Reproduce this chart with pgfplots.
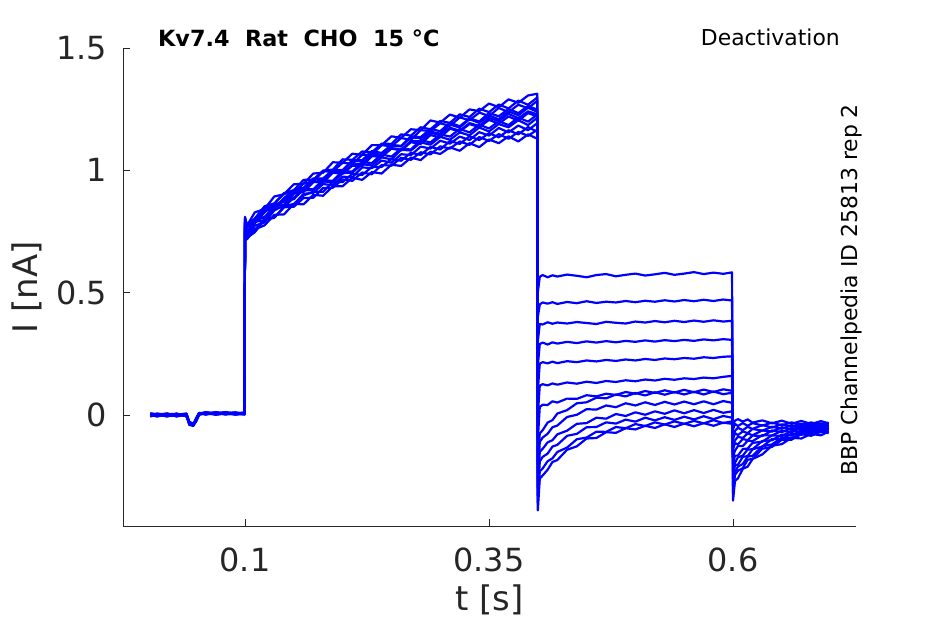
\documentclass[border=0pt]{standalone}
\usepackage{fontspec}
\setmainfont{DejaVu Sans}
\usepackage{pgfplots}
\usepackage{pgfplotstable}
\pgfplotsset{compat=1.18}
\definecolor{axgray}{RGB}{38,38,38}
\definecolor{trace}{RGB}{0,0,255}
\pgfplotstableread{
t y1 y2 y3 y4 y5 y6 y7 y8 y9 y10 y11 y12 y13
0.003 .004 -.003 .002 .006 -.005 .001 -.002 .005 .003 -.004 .000 .007 -.006
0.01 -.004 .005 -.001 .002 .006 -.006 .003 -.002 .004 .001 -.005 .003 .002
0.02 .006 -.002 .004 -.005 .001 .003 -.006 .004 -.003 .005 .002 -.004 .006
0.03 -.002 .004 -.006 .003 -.003 .005 .001 -.005 .006 -.002 .004 .001 -.004
0.04 .003 -.005 .002 -.001 .005 -.004 .006 .002 -.005 .004 -.003 .005 .001
0.043 -.030 -.035 -.028 -.040 -.033 -.038 -.030 -.036 -.032 -.041 -.029 -.034 -.037
0.047 -.038 -.042 -.035 -.045 -.040 -.036 -.044 -.039 -.041 -.037 -.043 -.035 -.040
0.05 -.020 -.015 -.025 -.018 -.012 -.022 -.016 -.024 -.014 -.020 -.026 -.017 -.021
0.053 .005 .008 .002 .006 .009 .003 .007 .001 .006 .004 .008 .002 .005
0.06 .009 .003 .007 .012 .004 .008 .002 .010 .006 .011 .005 .009 .003
0.07 .003 .010 .005 .001 .009 .004 .011 .006 .002 .008 .012 .004 .007
0.08 .008 .004 .011 .006 .002 .010 .005 .012 .007 .003 .006 .011 .009
0.09 .002 .009 .004 .010 .007 .003 .008 .004 .011 .006 .002 .007 .005
0.0995 .006 .003 .008 .004 .010 .007 .002 .009 .005 .008 .004 .003 .010
0.1 .810 .750 .790 .770 .800 .745 .780 .805 .760 .790 .775 .755 .785
0.102 .774 .724 .765 .732 .769 .718 .741 .777 .726 .768 .738 .733 .750
0.11 .828 .747 .793 .790 .800 .759 .800 .803 .774 .798 .796 .757 .783
0.12 .842 .797 .835 .795 .848 .775 .809 .853 .787 .844 .807 .801 .828
0.13 .893 .806 .845 .844 .863 .818 .853 .865 .836 .853 .845 .808 .861
0.14 .902 .849 .887 .850 .905 .820 .859 .907 .857 .875 .877 .850 .871
0.15 .943 .851 .918 .889 .907 .863 .904 .919 .861 .920 .882 .862 .914
0.16 .945 .887 .922 .918 .946 .861 .913 .961 .904 .929 .924 .897 .912
0.17 .987 .888 .964 .919 .954 .900 .952 .962 .908 .967 .923 .913 .952
0.18 .990 .928 .965 .955 .996 .896 .951 .999 .944 .967 .960 .912 .960
0.19 1.033 .929 .999 .950 .995 .935 .990 1.003 .939 1.001 .957 .954 .993
0.20 1.031 .963 .997 .988 1.031 .935 .986 1.045 .974 1.001 .997 .952 .988
0.21 1.068 .957 1.038 .991 1.027 .970 1.019 1.043 .972 1.041 .995 .986 1.024
0.22 1.063 .991 1.036 1.025 1.063 .961 1.018 1.077 1.012 1.041 1.033 .981 1.026
0.23 1.103 .984 1.070 1.020 1.064 .993 1.058 1.074 1.009 1.079 1.030 1.014 1.063
0.24 1.103 1.022 1.063 1.053 1.103 .987 1.055 1.109 1.040 1.071 1.065 1.014 1.057
0.25 1.139 1.019 1.099 1.045 1.098 1.023 1.089 1.108 1.031 1.104 1.056 1.046 1.091
0.26 1.133 1.051 1.098 1.084 1.132 1.018 1.081 1.147 1.066 1.100 1.089 1.039 1.084
0.27 1.168 1.043 1.135 1.081 1.125 1.052 1.115 1.142 1.062 1.139 1.085 1.072 1.120
0.28 1.164 1.074 1.131 1.114 1.164 1.042 1.108 1.176 1.097 1.136 1.124 1.063 1.119
0.29 1.204 1.065 1.158 1.105 1.161 1.076 1.144 1.168 1.089 1.169 1.114 1.096 1.152
0.30 1.195 1.098 1.150 1.137 1.192 1.067 1.135 1.202 1.121 1.160 1.147 1.085 1.147
0.31 1.228 1.089 1.187 1.125 1.182 1.094 1.170 1.194 1.109 1.195 1.138 1.120 1.174
0.32 1.215 1.118 1.175 1.155 1.216 1.080 1.159 1.229 1.138 1.180 1.169 1.108 1.162
0.33 1.249 1.104 1.209 1.143 1.205 1.111 1.189 1.218 1.124 1.212 1.155 1.139 1.193
0.34 1.242 1.136 1.194 1.175 1.236 1.095 1.177 1.252 1.156 1.200 1.187 1.124 1.181
0.35 1.273 1.120 1.224 1.159 1.222 1.126 1.206 1.238 1.142 1.234 1.171 1.152 1.214
0.36 1.258 1.148 1.209 1.189 1.255 1.111 1.191 1.269 1.173 1.221 1.201 1.135 1.202
0.37 1.290 1.129 1.241 1.176 1.238 1.139 1.220 1.253 1.155 1.251 1.185 1.164 1.231
0.38 1.276 1.157 1.225 1.205 1.268 1.118 1.203 1.285 1.183 1.234 1.216 1.147 1.213
0.39 1.306 1.141 1.256 1.185 1.254 1.147 1.234 1.268 1.164 1.263 1.199 1.177 1.241
0.3995 1.313 1.166 1.239 1.215 1.284 1.129 1.220 1.298 1.193 1.248 1.228 1.157 1.229
0.4 .500 .400 .300 .200 .100 .000 -.100 -.200 -.260 -.300 -.330 -.360 -.390
0.402 .565 .452 .372 .290 .210 .120 .033 -.075 -.110 -.150 -.190 -.230 -.260
0.405 .572 .460 .370 .296 .216 .126 .042 -.062 -.092 -.138 -.171 -.218 -.247
0.41 .563 .455 .379 .288 .211 .121 .041 -.031 -.077 -.112 -.158 -.189 -.224
0.415 .571 .461 .373 .297 .218 .129 .056 -.021 -.050 -.103 -.129 -.177 -.192
0.42 .566 .454 .378 .292 .212 .124 .051 .006 -.043 -.079 -.122 -.151 -.184
0.43 .574 .462 .374 .299 .220 .133 .067 .020 -.008 -.064 -.085 -.133 -.142
0.44 .569 .457 .380 .294 .216 .128 .066 .048 .001 -.036 -.077 -.099 -.128
0.45 .563 .465 .376 .301 .223 .136 .081 .052 .024 -.033 -.050 -.092 -.096
0.46 .572 .458 .372 .296 .219 .131 .076 .071 .022 -.011 -.049 -.068 -.094
0.47 .576 .463 .381 .302 .225 .139 .087 .068 .039 -.015 -.030 -.069 -.070
0.48 .567 .460 .377 .297 .221 .135 .082 .084 .032 .004 -.035 -.049 -.073
0.49 .573 .466 .374 .303 .227 .142 .094 .076 .048 -.004 -.019 -.054 -.054
0.50 .578 .461 .382 .299 .223 .138 .087 .090 .039 .011 -.027 -.037 -.059
0.51 .570 .467 .378 .305 .229 .145 .098 .080 .052 .001 -.011 -.045 -.044
0.52 .575 .463 .384 .300 .225 .141 .090 .093 .041 .015 -.022 -.030 -.053
0.53 .581 .469 .379 .306 .231 .148 .101 .083 .054 .005 -.009 -.039 -.038
0.54 .573 .464 .385 .302 .228 .144 .092 .094 .043 .019 -.020 -.026 -.049
0.55 .578 .470 .380 .307 .233 .150 .103 .084 .055 .007 -.007 -.036 -.035
0.56 .584 .465 .386 .303 .230 .147 .093 .095 .044 .020 -.018 -.024 -.046
0.57 .576 .471 .381 .309 .236 .153 .104 .084 .056 .008 -.005 -.034 -.033
0.58 .582 .466 .387 .305 .233 .150 .094 .096 .044 .021 -.017 -.021 -.044
0.59 .577 .472 .382 .310 .238 .156 .105 .085 .057 .009 -.004 -.033 -.031
0.599 .583 .468 .385 .307 .240 .160 .099 .091 .050 .015 -.011 -.026 -.036
0.6 -.350 -.320 -.290 -.260 -.230 -.200 -.170 -.140 -.120 -.100 -.080 -.060 -.040
0.602 -.270 -.245 -.234 -.204 -.195 -.166 -.146 -.115 -.104 -.074 -.065 -.036 -.023
0.605 -.259 -.228 -.211 -.203 -.173 -.166 -.127 -.120 -.089 -.082 -.052 -.045 -.017
0.61 -.220 -.217 -.200 -.171 -.166 -.139 -.127 -.098 -.094 -.067 -.062 -.033 -.027
0.615 -.211 -.183 -.170 -.168 -.141 -.137 -.105 -.103 -.075 -.074 -.048 -.044 -.018
0.62 -.180 -.179 -.167 -.140 -.140 -.114 -.107 -.084 -.083 -.057 -.057 -.033 -.031
0.63 -.161 -.138 -.128 -.129 -.106 -.109 -.082 -.086 -.063 -.064 -.041 -.043 -.022
0.64 -.125 -.130 -.120 -.098 -.103 -.083 -.084 -.063 -.068 -.048 -.051 -.031 -.034
0.65 -.119 -.101 -.092 -.098 -.080 -.086 -.064 -.070 -.050 -.056 -.038 -.042 -.023
0.66 -.093 -.101 -.094 -.076 -.084 -.065 -.070 -.053 -.060 -.042 -.048 -.030 -.036
0.67 -.096 -.078 -.074 -.081 -.064 -.071 -.052 -.062 -.045 -.052 -.035 -.042 -.024
0.68 -.077 -.085 -.080 -.063 -.071 -.055 -.062 -.047 -.055 -.038 -.046 -.030 -.037
0.69 -.083 -.068 -.063 -.071 -.055 -.064 -.048 -.057 -.042 -.049 -.034 -.041 -.025
0.698 -.068 -.074 -.070 -.057 -.063 -.052 -.056 -.045 -.051 -.039 -.043 -.031 -.034
}\data
\begin{document}
\begin{tikzpicture}
\path[use as bounding box] (0,0) rectangle (945bp,624bp);
\begin{axis}[
  at={(123bp,98bp)}, anchor=south west,
  scale only axis, width=733bp, height=478bp,
  xmin=-0.025, xmax=0.726, ymin=-0.4536, ymax=1.5,
  axis x line*=bottom, axis y line*=left,
  axis line style={axgray, line width=0.8pt},
  xtick={0.1,0.35,0.6}, xticklabels={0.1,0.35,0.6},
  ytick={0,0.5,1,1.5}, yticklabels={0,0.5,1,1.5},
  tick align=inside, major tick length=7bp,
  tick style={axgray, line width=0.8pt},
  /pgf/number format/assume math mode=true,
  ticklabel style={font=\fontsize{32}{38}\selectfont, text=axgray, inner sep=0pt},
  xticklabel style={anchor=north, yshift=-22bp},
  yticklabel style={anchor=east, xshift=-16bp},
]
\pgfplotsinvokeforeach{1,...,13}{
  \addplot[trace, line width=2.2pt, line join=round] table[x index=0, y index=#1]{\data};
}
\end{axis}
\node[anchor=base west, font=\bfseries\fontsize{22.4}{26}\selectfont, inner sep=0pt] at (158bp,577bp) {Kv7.4\ \ Rat\ \ CHO\ \ 15 °C};
\node[anchor=base east, font=\fontsize{22}{26}\selectfont, inner sep=0pt] at (840bp,578bp) {Deactivation};
\node[rotate=90, anchor=base, font=\fontsize{22}{26}\selectfont, inner sep=0pt] at (857.5bp,334bp) {BBP Channelpedia ID 25813 rep 2};
\node[rotate=90, anchor=base, font=\fontsize{34}{40}\selectfont, text=axgray, inner sep=0pt] at (37bp,336.5bp) {I [nA]};
\node[anchor=base, font=\fontsize{34}{40}\selectfont, text=axgray, inner sep=0pt] at (489.5bp,14bp) {t [s]};
\end{tikzpicture}
\end{document}
